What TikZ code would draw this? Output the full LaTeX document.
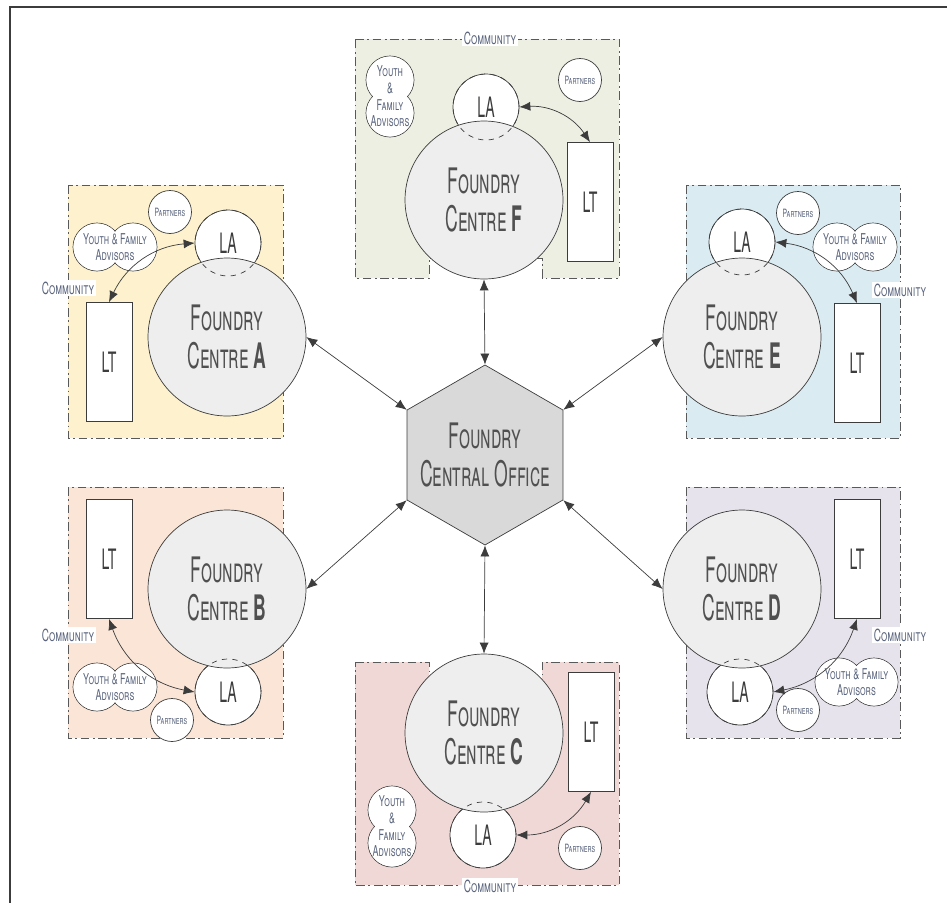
\documentclass[tikz,border=0pt]{standalone}
\usepackage{fontspec}
\newfontfamily\handfont[FakeStretch=0.5]{TeX Gyre Heros}
\newfontfamily\smallhand[FakeStretch=0.6]{TeX Gyre Heros}
\usetikzlibrary{shapes.geometric, arrows.meta}
\definecolor{boxF}{RGB}{236,239,225}
\definecolor{boxA}{RGB}{253,241,206}
\definecolor{boxE}{RGB}{218,235,242}
\definecolor{boxB}{RGB}{250,229,215}
\definecolor{boxC}{RGB}{240,216,214}
\definecolor{boxD}{RGB}{231,227,236}
\definecolor{ink}{RGB}{60,60,60}
\definecolor{slate}{RGB}{90,100,125}
\tikzset{
  commbox/.style={draw=ink!85, dash pattern=on 5pt off 2pt on 1pt off 2pt},
  bigtext/.style={align=center, text=ink!90, font=\handfont\scshape\fontsize{20}{22}\selectfont},
  centre/.style={circle, draw=ink, fill=gray!13, minimum size=3.16cm, inner sep=0pt, bigtext},
  lacirc/.style={circle, draw=ink, fill=white, minimum size=1.32cm, inner sep=0pt,
    text=ink, font=\handfont\scshape\fontsize{16}{18}\selectfont},
  ltbox/.style={draw=ink, fill=white, minimum width=0.92cm, minimum height=2.38cm,
    inner sep=0pt, text=ink, font=\handfont\scshape\fontsize{16}{18}\selectfont},
  partner/.style={circle, draw=ink, fill=white, minimum size=0.86cm, inner sep=0pt,
    text=slate, font=\smallhand\scshape\fontsize{6.5}{7}\selectfont},
  small/.style={align=center, inner sep=0pt, text=slate,
    font=\smallhand\scshape\fontsize{8.5}{9.5}\selectfont},
  commlabel/.style={fill=white, inner sep=1pt, text=slate,
    font=\smallhand\scshape\fontsize{9.5}{10}\selectfont},
  link/.style={<->, >={Latex[length=2.2mm, width=1.8mm]}, ink},
}
% youth & family advisors: two merged circles
\newcommand{\advisors}[2]{%
  \draw[ink, fill=white] #1 circle[radius=0.48cm] #2 circle[radius=0.48cm];
  \fill[white] #1 circle[radius=0.47cm] #2 circle[radius=0.47cm];}

\begin{document}
\begin{tikzpicture}[x=0.02cm, y=-0.02cm]
    \useasboundingbox (0,0) rectangle (947,903);
    \draw[ink, line width=1pt] (10,903) -- (10,7) -- (947,7);

    % community boxes
    \draw[commbox, fill=boxF] (355,39) -- (619,39) -- (619,278) -- (542,278) -- (542,258)
        -- (429,258) -- (429,278) -- (355,278) -- cycle;
    \draw[commbox, fill=boxC] (355,662) -- (429,662) -- (429,678) -- (542,678) -- (542,662)
        -- (619,662) -- (619,885) -- (355,885) -- cycle;
    \draw[commbox, fill=boxA] (68,185) rectangle (283,438);
    \draw[commbox, fill=boxE] (686,185) rectangle (900,438);
    \draw[commbox, fill=boxB] (68,487) rectangle (283,738);
    \draw[commbox, fill=boxD] (686,487) rectangle (900,738);

    % LA circles (under the centres)
    \node[lacirc] (laF) at (486,107) {LA};
    \node[lacirc] (laA) at (228,243) {LA};
    \node[lacirc] (laE) at (742,242) {LA};
    \node[lacirc] (laB) at (228,692) {LA};
    \node[lacirc] (laD) at (740,692) {LA};
    \node[lacirc] (laC) at (483,835) {LA};

    % foundry centres
    \node[centre] (centreF) at (484,200) {Foundry\\Centre \textbf{F}};
    \node[centre] (centreA) at (227,337) {Foundry\\Centre \textbf{A}};
    \node[centre] (centreE) at (742,337) {Foundry\\Centre \textbf{E}};
    \node[centre] (centreB) at (227,589) {Foundry\\Centre \textbf{B}};
    \node[centre] (centreD) at (742,589) {Foundry\\Centre \textbf{D}};
    \node[centre] (centreC) at (484,733) {Foundry\\Centre \textbf{C}};
    \foreach \la in {laF,laA,laE,laB,laD,laC}
        \draw[ink, dashed] (\la.center) circle[radius=0.66cm];

    \node[regular polygon, regular polygon sides=6, shape border rotate=30, minimum size=3.6cm,
        inner sep=0pt, draw=ink, fill=gray!30] (hub) at (485,455) {};
    \node[bigtext] (hubtext) at (hub.center) {Foundry\\Central Office};

    % LT boxes
    \node[ltbox] (ltF) at (590,202) {LT};
    \node[ltbox] (ltA) at (109,362) {LT};
    \node[ltbox] (ltE) at (857,363) {LT};
    \node[ltbox] (ltB) at (109,559) {LT};
    \node[ltbox] (ltD) at (857,559) {LT};
    \node[ltbox] (ltC) at (591,732) {LT};

    % partners
    \node[partner] (partF) at (580,80) {Partners};
    \node[partner] (partA) at (170,212) {Partners};
    \node[partner] (partE) at (798,213) {Partners};
    \node[partner] (partB) at (172,720) {Partners};
    \node[partner] (partD) at (798,710) {Partners};
    \node[partner] (partC) at (580,848) {Partners};

    % youth & family advisors
    \advisors{(390,80)}{(390,113)}
    \node[small] (yfF) at (390,96.5) {Youth\\\&\\Family\\Advisors};
    \advisors{(97,247)}{(133,247)}
    \node[small] (yfA) at (115,247) {Youth \& Family\\Advisors};
    \advisors{(837,247)}{(873,247)}
    \node[small] (yfE) at (855,247) {Youth \& Family\\Advisors};
    \advisors{(97,687)}{(133,687)}
    \node[small] (yfB) at (115,687) {Youth \& Family\\Advisors};
    \advisors{(839,682)}{(874,682)}
    \node[small] (yfD) at (856.5,682) {Youth \& Family\\Advisors};
    \advisors{(392,810)}{(392,843)}
    \node[small] (yfC) at (392,826.5) {Youth\\\&\\Family\\Advisors};

    % LA -- LT
    \draw[link] (laF.east) to[bend left=30] (ltF.north);
    \draw[link] (laA.west) to[bend right=30] (ltA.north);
    \draw[link] (laE.east) to[bend left=30] (ltE.north);
    \draw[link] (ltB.south) to[bend right=30] (laB.west);
    \draw[link] (laD.east) to[bend right=30] (ltD.south);
    \draw[link] (laC.east) to[bend right=30] (ltC.south);

    % central office -- centres
    \draw[link] (hub.90) -- (centreF.south);
    \draw[link] (hub.270) -- (centreC.north);
    \draw[link] (hub.150) -- (centreA.east);
    \draw[link] (hub.210) -- (centreB.east);
    \draw[link] (hub.30) -- (centreE.west);
    \draw[link] (hub.330) -- (centreD.west);

    % community labels
    \node[commlabel] (commF) at (490,38) {Community};
    \node[commlabel] (commC) at (490,886) {Community};
    \node[commlabel] (commA) at (68,288) {Community};
    \node[commlabel] (commB) at (68,635) {Community};
    \node[commlabel] (commE) at (900,290) {Community};
    \node[commlabel] (commD) at (900,635) {Community};
\end{tikzpicture}
\end{document}
